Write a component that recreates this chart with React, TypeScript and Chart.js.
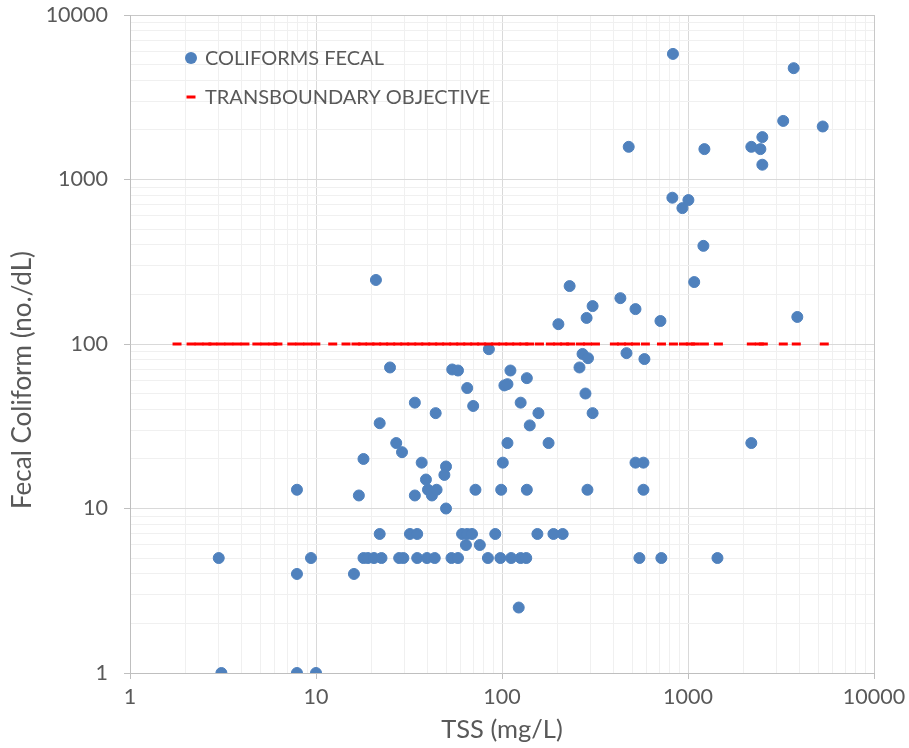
import React, { useEffect, useRef } from "react";
import { Chart, registerables } from "chart.js";

Chart.register(...registerables);

// ---- Data ----
const tss: number[] = [
  830, 3700, 480, 1225, 2190, 2450, 2510, 2510, 3250, 5300,
  824, 1005, 933, 1210, 1080, 433, 522, 711, 3870, 231,
  201, 307, 285, 21, 85, 271, 290, 261, 467, 583,
  111, 103, 107, 136, 281, 126, 157, 141, 307, 107,
  178, 101, 522, 576, 2190, 25, 54, 58, 65, 70,
  34, 44, 22, 27, 29, 18, 37, 50, 49, 39,
  17, 34, 40, 42, 44.5, 50, 72, 99, 136, 288,
  576, 7.9, 22, 32, 35, 61, 65, 69, 92, 155,
  189, 212, 64, 76, 3, 9.4, 18, 19, 20.5, 22.5,
  28, 29.5, 35, 39.5, 43.5, 53.5, 58, 84, 98, 112,
  126, 135, 548, 719, 1440, 7.9, 16, 123, 3.1, 7.9,
  10,
];

const fecalColiform: number[] = [
  5800, 4750, 1580, 1530, 1580, 1530, 1810, 1230, 2270, 2100,
  775, 750, 670, 395, 238, 190, 163, 138, 146, 225,
  132, 170, 144, 245, 93, 87, 82, 72, 88, 81,
  69, 56, 57, 62, 50, 44, 38, 32, 38, 25,
  25, 19, 19, 19, 25, 72, 70, 69, 54, 42,
  44, 38, 33, 25, 22, 20, 19, 18, 16, 15,
  12, 12, 13, 12, 13, 10, 13, 13, 13, 13,
  13, 13, 7, 7, 7, 7, 7, 7, 7, 7,
  7, 7, 6, 6, 5, 5, 5, 5, 5, 5,
  5, 5, 5, 5, 5, 5, 5, 5, 5, 5,
  5, 5, 5, 5, 5, 4, 4, 2.5, 1, 1,
  1,
];

const objectiveTss: number[] = [
  1.79, 2.13, 2.35, 2.59, 2.79, 3.08, 3.4, 3.76, 4.15, 4.81,
  5.31, 5.86, 6.24, 7.41, 8.18, 9.03, 9.98, 12.3, 14.5, 16.4,
  17.8, 19.5, 21.2, 23.1, 25.2, 27.5, 30.0, 32.7, 35.7, 38.9,
  42.4, 46.2, 50.4, 55.0, 60.0, 65.4, 71.3, 77.7, 84.7, 92.4,
  101, 110, 120, 131, 141, 159, 182, 199, 217, 234,
  264, 288, 318, 402, 439, 479, 522, 590, 720, 835,
  945, 1030, 1096, 1225, 1457, 2190, 2418, 2541, 3253, 3821,
  5403,
];
const objectiveValue = 100;

const decadeTicks: number[] = [1, 10, 100, 1000, 10000];
const minorMultipliers: number[] = [2, 3, 4, 5, 6, 7, 8, 9];

const seriesNames: string[] = ["COLIFORMS FECAL", "TRANSBOUNDARY OBJECTIVE"];
const xTitle = "TSS (mg/L)";
const yTitle = "Fecal Coliform (no./dL)";

// ---- Styling ----
const BLUE = "#4F81BD";
const RED = "#FF0000";
const TEXT = "#595959";
const FONT = "Lato, 'Open Sans', sans-serif";

function buildTickValues(): number[] {
  const vals: number[] = [];
  for (let i = 0; i < decadeTicks.length; i++) {
    const d = decadeTicks[i];
    vals.push(d);
    if (i < decadeTicks.length - 1) {
      for (const m of minorMultipliers) vals.push(d * m);
    }
  }
  return vals;
}

const isDecade = (v: number) => decadeTicks.some((d) => Math.abs(d - v) < 1e-9);

const legendPlugin = {
  id: "insideLegend",
  afterDraw(chart: any) {
    const { ctx, chartArea } = chart;
    const mx = chartArea.left + 61;
    const tx = chartArea.left + 75;
    const y1 = chartArea.top + 43;
    const y2 = chartArea.top + 82;
    ctx.save();
    ctx.fillStyle = BLUE;
    ctx.beginPath();
    ctx.arc(mx, y1, 6, 0, Math.PI * 2);
    ctx.fill();
    ctx.fillStyle = RED;
    ctx.fillRect(mx - 4.5, y2 - 1.5, 9, 3);
    ctx.fillStyle = TEXT;
    ctx.font = `20px ${FONT}`;
    ctx.textBaseline = "middle";
    ctx.textAlign = "left";
    ctx.fillText(seriesNames[0], tx, y1 + 1);
    ctx.fillText(seriesNames[1], tx, y2 + 1);
    ctx.restore();

    // y-axis title (rotated)
    ctx.save();
    ctx.translate(23, chartArea.top + 365);
    ctx.rotate(-Math.PI / 2);
    ctx.fillStyle = TEXT;
    ctx.font = `26px ${FONT}`;
    ctx.textAlign = "center";
    ctx.textBaseline = "middle";
    ctx.fillText(yTitle, 0, 0);
    ctx.restore();
  },
};

function gridColor(ctx: any) {
  const v = ctx.tick ? ctx.tick.value : 0;
  if (Math.abs(v - 10000) < 1e-6) return "#c8c8c8";
  return isDecade(v) ? "#d9d9d9" : "#f0f0f0";
}
function tickColor(ctx: any) {
  const v = ctx.tick ? ctx.tick.value : 0;
  return isDecade(v) ? "#bfbfbf" : "rgba(0,0,0,0)";
}

export default function App() {
  const ref = useRef<HTMLCanvasElement | null>(null);

  useEffect(() => {
    if (!ref.current) return;
    const tickValues = buildTickValues();
    const setTicks = (scale: any) => {
      scale.ticks = tickValues.map((v) => ({ value: v, major: isDecade(v) }));
    };
    const chart = new Chart(ref.current, {
      type: "scatter",
      data: {
        datasets: [
          {
            label: seriesNames[1],
            data: objectiveTss.map((x) => ({ x, y: objectiveValue })),
            pointStyle: "line",
            radius: 4.5,
            borderWidth: 3,
            borderColor: RED,
            backgroundColor: RED,
            order: 0,
          },
          {
            label: seriesNames[0],
            data: tss.map((x, i) => ({ x, y: fecalColiform[i] })),
            pointStyle: "circle",
            radius: 5.5,
            borderWidth: 1,
            borderColor: BLUE,
            backgroundColor: BLUE,
            order: 1,
          },
        ],
      },
      options: {
        responsive: false,
        animation: false,
        layout: { autoPadding: false, padding: { left: 0, right: 35, top: 15, bottom: 0 } },
        plugins: {
          legend: { display: false },
          tooltip: { enabled: false },
        },
        scales: {
          x: {
            type: "logarithmic",
            min: 1,
            max: 10000,
            afterBuildTicks: setTicks,
            afterFit: (s: any) => {
              s.height = 75;
              s.paddingLeft = 0;
              s.paddingRight = 0;
            },
            grid: {
              color: gridColor,
              tickColor: tickColor,
              tickLength: 6,
              lineWidth: 1,
            },
            border: { color: "#bfbfbf", width: 1 },
            ticks: {
              autoSkip: false,
              maxRotation: 0,
              minRotation: 0,
              padding: 5,
              color: TEXT,
              font: { family: FONT, size: 21.5 },
              callback: (v: any) => (isDecade(Number(v)) ? String(v) : ""),
            },
            title: {
              display: true,
              text: xTitle,
              color: TEXT,
              font: { family: FONT, size: 25.5 },
              padding: { top: 0, bottom: 3 },
            },
          },
          y: {
            type: "logarithmic",
            min: 1,
            max: 10000,
            afterBuildTicks: setTicks,
            afterFit: (s: any) => {
              s.width = 130;
              s.paddingTop = 0;
              s.paddingBottom = 0;
            },
            grid: {
              color: gridColor,
              tickColor: tickColor,
              tickLength: 6,
              lineWidth: 1,
            },
            border: { color: "#bfbfbf", width: 1 },
            ticks: {
              autoSkip: false,
              padding: 16,
              color: TEXT,
              font: { family: FONT, size: 21.5 },
              callback: (v: any) => (isDecade(Number(v)) ? String(v) : ""),
            },
            title: { display: false },
          },
        },
      },
      plugins: [legendPlugin],
    } as any);
    return () => chart.destroy();
  }, []);

  return (
    <div style={{ position: "fixed", left: 0, top: 0, width: 909, height: 748, background: "#fff" }}>
      <canvas ref={ref} width={909} height={748} style={{ display: "block" }} />
    </div>
  );
}
